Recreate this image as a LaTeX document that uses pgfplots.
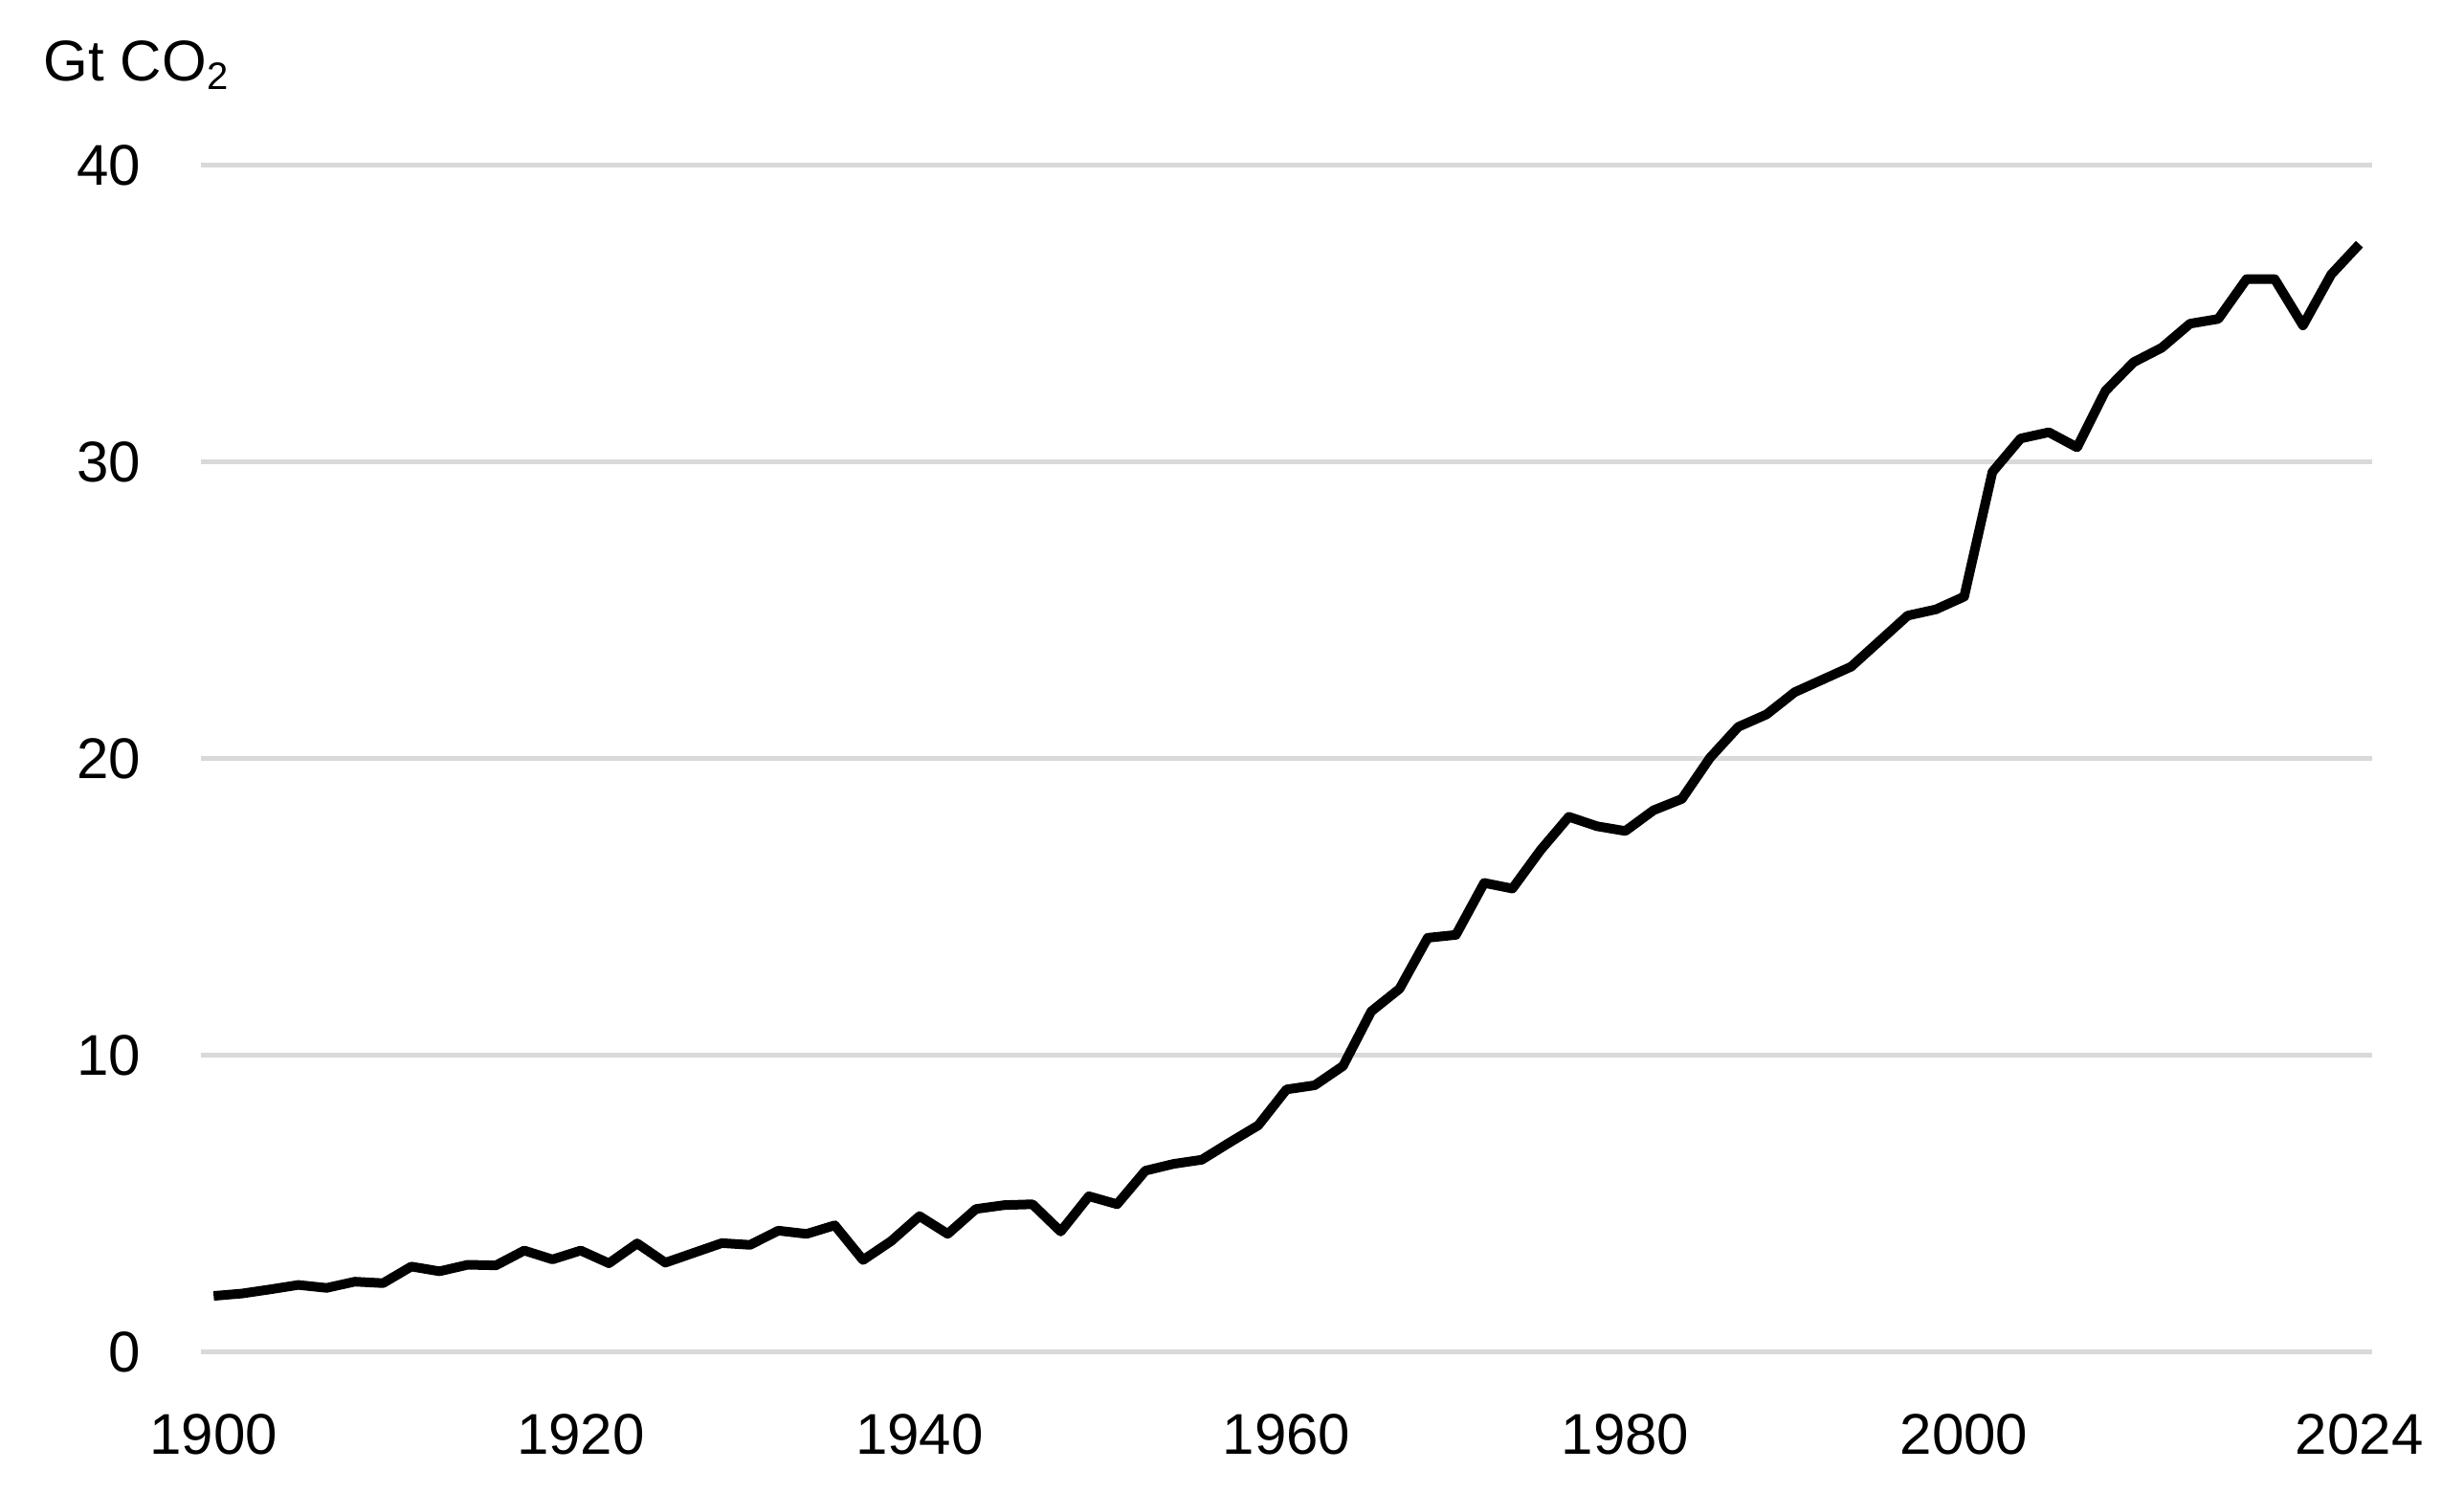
\documentclass[border=0pt]{standalone}
\usepackage{fontspec}
\setmainfont{Liberation Sans}
\usepackage{pgfplots}
\usepackage{pgfplotstable}
\pgfplotsset{compat=1.18}
\definecolor{gridgray}{HTML}{D9D9D9}

% points are evenly spaced along the category axis (index 0..76)
\pgfplotstableread{
i v
0 1.90
1 1.98
2 2.12
3 2.27
4 2.17
5 2.38
6 2.33
7 2.89
8 2.73
9 2.95
10 2.93
11 3.43
12 3.13
13 3.43
14 3.00
15 3.67
16 3.02
17 3.35
18 3.68
19 3.62
20 4.10
21 3.99
22 4.28
23 3.11
24 3.75
25 4.59
26 3.99
27 4.83
28 4.96
29 4.99
30 4.07
31 5.26
32 4.99
33 6.12
34 6.35
35 6.49
36 7.08
37 7.65
38 8.86
39 9.00
40 9.65
41 11.49
42 12.25
43 13.97
44 14.07
45 15.82
46 15.63
47 16.93
48 18.05
49 17.73
50 17.57
51 18.27
52 18.65
53 20.04
54 21.08
55 21.50
56 22.25
57 22.68
58 23.11
59 23.97
60 24.83
61 25.04
62 25.47
63 29.67
64 30.80
65 31.01
66 30.50
67 32.40
68 33.37
69 33.86
70 34.67
71 34.83
72 36.17
73 36.17
74 34.61
75 36.33
76 37.35
}\emissions

\begin{document}
\begin{tikzpicture}
\begin{axis}[
  name=ax,
  width=453.8pt, height=248pt, scale only axis,
  xmin=-0.45, xmax=76.45, ymin=0, ymax=40,
  axis line style={draw=none},
  tick style={draw=none},
  ytick={0,10,20,30,40},
  xtick={0,13,25,38,50,62,76},
  xticklabels={1900,1920,1940,1960,1980,2000,2024},
  ymajorgrids, grid style={gridgray, line width=1pt},
  ticklabel style={font=\fontsize{12}{14}\selectfont},
  yticklabel style={anchor=east, inner sep=0pt, xshift=-12.4pt},
  xticklabel style={anchor=north, inner sep=0pt, yshift=-12.8pt},
  /pgf/number format/assume math mode=true,
  clip=false,
]
\addplot[black, line width=2pt, line join=round] table[x=i, y=v] {\emissions};
\end{axis}
\node[anchor=base west, inner sep=0pt, font=\fontsize{12}{14}\selectfont] at ([shift={(-33pt,17.6pt)}]ax.north west) {Gt CO\textsubscript{2}};
\path ([shift={(-42pt,-29.4pt)}]ax.south west) rectangle ([shift={(19.2pt,34.6pt)}]ax.north east);
\end{tikzpicture}
\end{document}
